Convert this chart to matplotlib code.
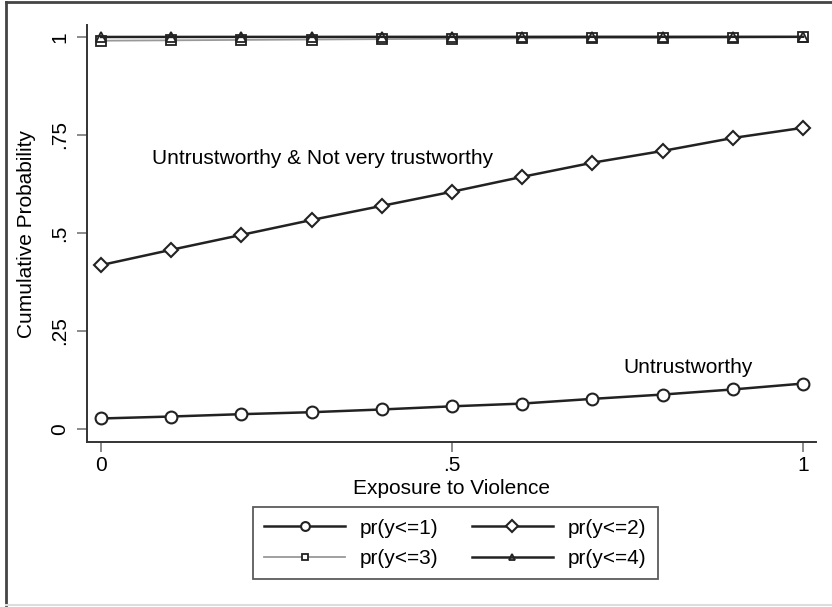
import numpy as np
import matplotlib.pyplot as plt
from matplotlib.lines import Line2D

plt.rcParams['font.family'] = ['Liberation Sans', 'DejaVu Sans']

exposure = [0, .1, .2, .3, .4, .5, .6, .7, .8, .9, 1]
pr1 = [0.027, 0.032, 0.038, 0.043, 0.050, 0.058, 0.065, 0.077, 0.088, 0.101, 0.116]
pr2 = [0.418, 0.457, 0.495, 0.533, 0.569, 0.605, 0.643, 0.679, 0.709, 0.742, 0.768]
pr3 = [0.990, 0.991, 0.992, 0.993, 0.994, 0.995, 0.996, 0.997, 0.997, 0.998, 0.999]
pr4 = [0.9995, 0.9996, 0.9997, 0.9997, 0.9998, 0.9998, 0.9998, 0.9999, 0.9999, 0.9999, 1.0]

fs = 15

fig = plt.figure(figsize=(8.32, 6.07), dpi=100)
ax = fig.add_axes([0.1046, 0.2718, 0.8762, 0.687])

ms = 8.5
ax.plot(exposure, pr3, color='#999999', lw=1.3, marker='s', ms=ms-2,
        mfc='white', mec='#222222', mew=1.3, label='pr(y<=3)', zorder=2)
ax.plot(exposure, pr4, color='#222222', lw=1.8, marker='^', ms=ms-2,
        mfc='none', mec='#222222', mew=1.3, label='pr(y<=4)', zorder=3)
ax.plot(exposure, pr1, color='#222222', lw=1.8, marker='o', ms=ms,
        mfc='white', mec='#222222', mew=1.5, label='pr(y<=1)', zorder=3)
ax.plot(exposure, pr2, color='#222222', lw=1.8, marker='D', ms=ms-1,
        mfc='white', mec='#222222', mew=1.5, label='pr(y<=2)', zorder=3)

ax.set_xlim(-0.02, 1.0185)
ax.set_ylim(-0.033, 1.03)
ax.set_xticks([0, .5, 1])
ax.set_xticklabels(['0', '.5', '1'])
ax.set_yticks([0, .25, .5, .75, 1])
ax.set_yticklabels(['0', '.25', '.5', '.75', '1'], rotation=90, va='center')
ax.tick_params(direction='out', length=7, width=1.2, color='#777777',
               labelsize=fs, pad=3)
ax.tick_params(axis='y', pad=6)
for s in ['top', 'right']:
    ax.spines[s].set_visible(False)
for s in ['left', 'bottom']:
    ax.spines[s].set_color('#333333')
    ax.spines[s].set_linewidth(1.4)

ax.set_xlabel('Exposure to Violence', fontsize=fs, labelpad=3)
ax.set_ylabel('Cumulative Probability', fontsize=fs, labelpad=10)

ax.text(0.073, 0.69, 'Untrustworthy & Not very trustworthy', fontsize=fs,
        va='center', ha='left')
ax.text(0.744, 0.158, 'Untrustworthy', fontsize=fs, va='center', ha='left')

handles, labels = ax.get_legend_handles_labels()
order = [2, 0, 3, 1]
leg = fig.legend([handles[i] for i in order], [labels[i] for i in order],
                 ncol=2, loc='center', bbox_to_anchor=(0.547, 0.105),
                 fontsize=fs, frameon=True, fancybox=False, markerscale=0.75,
                 handlelength=3.9, columnspacing=1.6, handletextpad=0.7,
                 borderpad=0.55, labelspacing=0.55)
leg.get_frame().set_edgecolor('#333333')
leg.get_frame().set_linewidth(1.3)

# outer graph border (left/top dark, bottom faint)
fig.add_artist(Line2D([0.007, 0.007], [0.003, 0.997], transform=fig.transFigure,
                      color='#444444', lw=2))
fig.add_artist(Line2D([0.007, 1.0], [0.997, 0.997], transform=fig.transFigure,
                      color='#444444', lw=2))
fig.add_artist(Line2D([0.007, 1.0], [0.003, 0.003], transform=fig.transFigure,
                      color='#dddddd', lw=1.5))

fig.savefig('out.png', dpi=100)
